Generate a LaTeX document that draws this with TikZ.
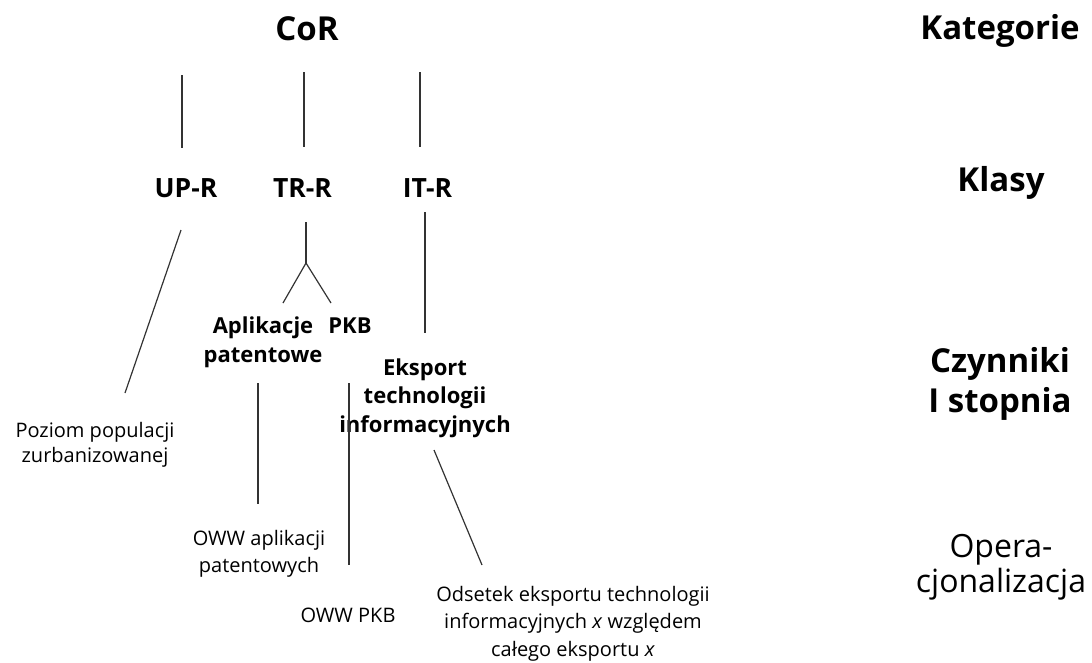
\documentclass[tikz,border=0pt]{standalone}
\usepackage{fontspec}
\setmainfont{Open Sans}
\begin{document}
\begin{tikzpicture}[x=1pt,y=-1pt,
  level/.style={font=\fontsize{33}{40}\selectfont\bfseries, anchor=base, inner sep=0pt, align=center},
  levelop/.style={font=\fontsize{32}{35}\selectfont, anchor=base, inner sep=0pt, align=center},
  cls/.style={font=\fontsize{26.5}{30}\selectfont\bfseries, anchor=base, inner sep=0pt},
  fac/.style={font=\fontsize{22}{29}\selectfont\bfseries, anchor=base, inner sep=0pt, align=center},
  opn/.style={font=\fontsize{20}{26}\selectfont, anchor=base, inner sep=0pt, align=center},
  link/.style={line width=1.2pt, black!80}]
\useasboundingbox (0,0) rectangle (1092,662);

% level captions on the right (multi-line nodes sit on their last baseline)
\node[level] (kat) at (1000,39) {Kategorie};
\node[level] (klasy) at (1001,191) {Klasy};
\node[level] (czyn) at (1000,412) {Czynniki\\I stopnia};
\node[levelop] (oper) at (1001,592) {Opera-\\cjonalizacja};

% category and classes
\node[level] (cor) at (307,40) {CoR};
\node[cls] (upr) at (186,197) {UP-R};
\node[cls] (trr) at (302.5,197) {TR-R};
\node[cls] (itr) at (427.5,197) {IT-R};

% first-degree factors
\node[fac] (apl) at (263,362) {Aplikacje\\patentowe};
\node[fac] (pkb) at (350,333) {PKB};
\node[fac, font=\fontsize{22}{28.5}\selectfont\bfseries] (eks) at (425,432) {Eksport\\technologii\\informacyjnych};

% operationalisation
\node[opn, font=\fontsize{20}{25}\selectfont] (poz) at (95,462) {Poziom populacji\\zurbanizowanej};
\node[opn, font=\fontsize{20}{26.5}\selectfont] (owwapl) at (259,572) {OWW aplikacji\\patentowych};
\node[opn] (owwpkb) at (348,622) {OWW PKB};
\node[opn, font=\fontsize{20}{27.5}\selectfont] (ods) at (573,656) {Odsetek eksportu technologii\\informacyjnych \textit{x} względem\\całego eksportu \textit{x}};

% line end points
\coordinate (corU) at (182,75);   \coordinate (uprT) at (182,148);
\coordinate (corT) at (304,72);   \coordinate (trrT) at (304,147);
\coordinate (corI) at (420,72);   \coordinate (itrT) at (420,147);
\coordinate (uprB) at (181,230);  \coordinate (pozT) at (125,393);
\coordinate (trrB) at (306,222);  \coordinate (fork) at (306,263);
\coordinate (aplT) at (283,303);  \coordinate (pkbT) at (331,303);
\coordinate (itrB) at (425,212);  \coordinate (eksT) at (425,333);
\coordinate (aplB) at (258,383);  \coordinate (owwaplT) at (258,504);
\coordinate (pkbB) at (349,383);  \coordinate (owwpkbT) at (349,565);
\coordinate (eksB) at (434,450);  \coordinate (odsT) at (482,565);

\draw[link] (corU) -- (uprT);
\draw[link] (corT) -- (trrT);
\draw[link] (corI) -- (itrT);
\draw[link] (uprB) -- (pozT);
\draw[link] (trrB) -- (fork);
\draw[link] (fork) -- (aplT);
\draw[link] (fork) -- (pkbT);
\draw[link] (itrB) -- (eksT);
\draw[link] (aplB) -- (owwaplT);
\draw[link] (pkbB) -- (owwpkbT);
\draw[link] (eksB) -- (odsT);
\end{tikzpicture}
\end{document}
